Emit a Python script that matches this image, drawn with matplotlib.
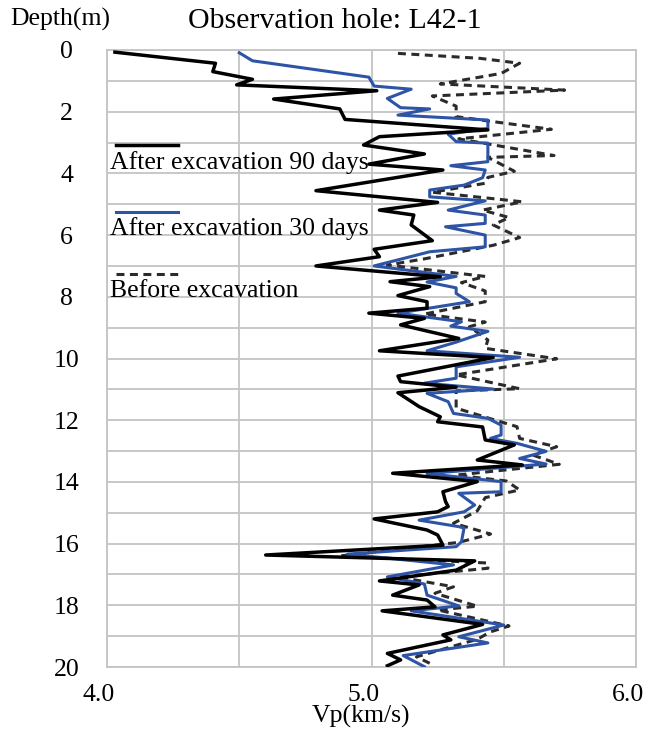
import numpy as np
import matplotlib
matplotlib.use("Agg")
import matplotlib.pyplot as plt
from matplotlib.lines import Line2D
from matplotlib.transforms import ScaledTranslation

plt.rcParams['font.family'] = ['Liberation Serif', 'DejaVu Serif']

### data (depth in m, Vp in km/s)
depth_90 = [0.07, 0.43, 0.70, 0.95, 1.13, 1.32, 1.59, 1.91, 2.25, 2.59, 2.81, 3.08, 3.37, 3.70,
            3.89, 4.56, 4.94, 5.19, 5.35, 5.67, 6.18, 6.46, 6.70, 7.00, 7.35, 7.51, 7.67, 7.96,
            8.16, 8.37, 8.53, 8.70, 8.91, 9.35, 9.75, 9.97, 10.57, 10.75, 10.93, 11.11, 11.56,
            11.89, 12.05, 12.22, 12.64, 12.80, 13.29, 13.45, 13.72, 13.99, 14.32, 14.64, 14.80,
            14.97, 15.20, 15.56, 15.72, 16.05, 16.37, 16.56, 16.86, 17.21, 17.34, 17.67, 17.83,
            18.05, 18.18, 18.62, 18.96, 19.12, 19.56, 19.77, 19.96]
vp_90 = [4.03, 4.41, 4.40, 4.55, 4.49, 5.02, 4.63, 4.88, 4.90, 5.44, 5.03, 4.97, 5.20, 4.99,
         5.27, 4.79, 5.25, 5.03, 5.16, 5.15, 5.23, 5.01, 5.03, 4.79, 5.26, 5.07, 5.22, 5.10,
         5.21, 5.21, 4.99, 5.20, 5.11, 5.33, 5.03, 5.46, 5.10, 5.11, 5.32, 5.10, 5.18,
         5.26, 5.25, 5.42, 5.43, 5.54, 5.40, 5.57, 5.08, 5.40, 5.27, 5.28, 5.29,
         5.25, 5.01, 5.21, 5.25, 5.27, 4.60, 5.39, 5.32, 5.03, 5.18, 5.08, 5.21,
         5.24, 5.04, 5.42, 5.27, 5.30, 5.06, 5.11, 5.06]

depth_30 = [0.09, 0.35, 0.88, 1.17, 1.27, 1.57, 1.87, 1.91, 2.11, 2.27, 2.54, 2.73, 2.97, 3.02,
            3.62, 3.75, 3.89, 4.14, 4.38, 4.54, 4.76, 4.89, 5.19, 5.35, 5.62, 5.73, 6.00, 6.38,
            6.54, 7.00, 7.34, 7.52, 7.71, 7.89, 8.16, 8.53, 8.81, 8.95, 9.12, 9.47, 9.75, 9.96,
            10.27, 10.64, 10.80, 10.99, 11.13, 11.40, 11.78, 11.94, 12.16, 12.48, 12.59, 12.75,
            13.01, 13.24, 13.42, 13.73, 13.99, 14.32, 14.37, 14.75, 14.97, 15.24, 15.45, 15.50,
            15.94, 16.10, 16.34, 16.69, 17.08, 17.31, 17.67, 18.02, 18.18, 18.64, 19.02, 19.22,
            19.63, 19.99]
vp_30 = [4.50, 4.55, 4.99, 5.01, 5.15, 5.06, 5.11, 5.22, 5.10, 5.44, 5.44, 5.29, 5.32, 5.44,
         5.44, 5.30, 5.43, 5.42, 5.35, 5.22, 5.22, 5.43, 5.29, 5.43, 5.43, 5.28, 5.43, 5.43,
         5.22, 5.01, 5.32, 5.21, 5.32, 5.32, 5.37, 5.10, 5.34, 5.30, 5.44, 5.32, 5.21, 5.56,
         5.32, 5.32, 5.20, 5.46, 5.21, 5.29, 5.31, 5.44, 5.49, 5.49, 5.45, 5.55,
         5.66, 5.56, 5.66, 5.21, 5.49, 5.49, 5.33, 5.39, 5.35, 5.18, 5.33, 5.35,
         5.34, 5.32, 4.91, 5.31, 5.06, 5.20, 5.21, 5.33, 5.15, 5.50, 5.33, 5.44,
         5.12, 5.20]

depth_before = [0.11, 0.27, 0.43, 0.76, 1.10, 1.30, 1.49, 1.82, 2.16, 2.30, 2.57, 2.88, 3.42,
                3.48, 3.93, 4.13, 4.32, 4.61, 4.92, 5.19, 5.43, 5.67, 6.08, 6.33, 6.77, 6.97,
                7.34, 7.54, 7.81, 8.16, 8.56, 8.82, 8.97, 9.40, 9.67, 10.01, 10.53, 10.98, 11.05,
                11.61, 12.03, 12.21, 12.59, 12.86, 13.13, 13.43, 13.78, 13.97, 14.26, 14.51,
                14.94, 15.34, 15.69, 15.96, 16.40, 16.63, 16.80, 17.08, 17.40, 17.61, 18.03,
                18.15, 18.67, 18.86, 19.10, 19.67, 19.88]
vp_before = [5.10, 5.41, 5.56, 5.49, 5.26, 5.73, 5.23, 5.32, 5.32, 5.44, 5.68, 5.33, 5.69,
             5.44, 5.54, 5.44, 5.43, 5.23, 5.57, 5.42, 5.52, 5.46, 5.56, 5.46, 5.20, 5.06,
             5.43, 5.34, 5.43, 5.43, 5.20, 5.43, 5.37, 5.44, 5.43, 5.70, 5.32, 5.56, 5.32,
             5.32, 5.48, 5.55, 5.56, 5.70, 5.61, 5.71, 5.32, 5.51, 5.56, 5.43,
             5.40, 5.31, 5.45, 5.33, 4.88, 5.44, 5.44, 5.10, 5.31, 5.24, 5.40,
             5.25, 5.52, 5.45, 5.40, 5.17, 5.22]

labels = ['After excavation 90 days', 'After excavation 30 days', 'Before excavation']
x_ticks = [4.0, 5.0, 6.0]
y_ticks = list(range(0, 21, 2))

blue = '#2E54A6'
dash_col = '#2B2B2B'
grid_col = '#C4C4C4'

fig = plt.figure(figsize=(6.6, 7.33), dpi=100)
ax = fig.add_axes([107/660, 66/733, 529/660, 617/733])

ax.plot(vp_before, depth_before, color=dash_col, lw=2.2, ls=(0, (2.6, 1.8)), zorder=3)
ax.plot(vp_30, depth_30, color=blue, lw=2.2, zorder=4)
ax.plot(vp_90, depth_90, color='black', lw=2.5, zorder=5)

ax.set_xlim(4.0, 6.0)
ax.set_ylim(20, 0)
ax.set_xticks(x_ticks)
ax.set_xticklabels(['%.1f' % t for t in x_ticks])
ax.set_xticks([4.5, 5.5], minor=True)
ax.set_yticks(y_ticks)
ax.set_yticklabels([str(t) for t in y_ticks], ha='center')
ax.set_yticks(range(1, 20, 2), minor=True)
ax.grid(True, which='both', color=grid_col, lw=1.3, zorder=0)
ax.set_axisbelow(True)
for s in ax.spines.values():
    s.set_color(grid_col)
    s.set_linewidth(1.3)
ax.tick_params(which='both', length=0, labelsize=18.5)
ax.tick_params(axis='x', pad=12)
ax.tick_params(axis='y', pad=29)
for lab in ax.get_xticklabels():
    lab.set_transform(lab.get_transform() + ScaledTranslation(-0.08, 0, fig.dpi_scale_trans))

ax.set_xlabel('Vp(km/s)', fontsize=18.5)
ax.xaxis.set_label_coords(0.48, -0.061)

fig.text(10/660, 1 - 19/733, 'Depth(m)', fontsize=18.5, ha='left', va='center')
fig.text(335/660, 1 - 21/733, 'Observation hole: L42-1', fontsize=21.5, ha='center', va='center')

# legend: sample line above each label
styles = [dict(color='black', lw=2.5),
          dict(color=blue, lw=2.2),
          dict(color=dash_col, lw=2.2, ls=(0, (2.6, 1.8)))]
line_y = [145, 212, 274]
text_y = [163, 229, 291]
for st, ly, ty, lab in zip(styles, line_y, text_y, labels):
    fig.add_artist(Line2D([116/660, 178/660], [1 - ly/733, 1 - ly/733], **st))
    fig.text(110/660, 1 - ty/733, lab, fontsize=18.5, ha='left', va='center', zorder=6)

plt.savefig('out.png', dpi=100)
